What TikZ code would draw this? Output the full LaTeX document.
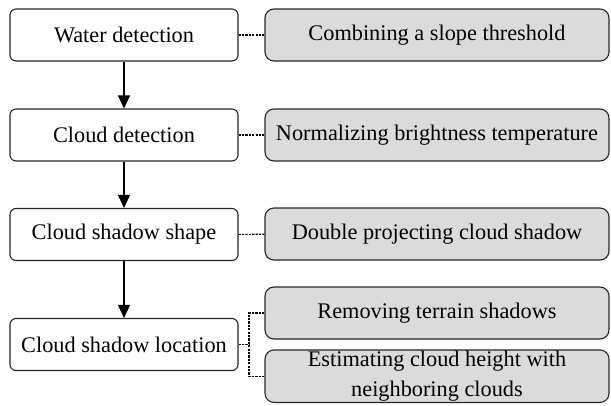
\documentclass[tikz,border=0pt]{standalone}
\usepackage{fontspec}
\setmainfont{Liberation Serif}
\usetikzlibrary{arrows.meta}
\begin{document}
\begin{tikzpicture}[x=1pt,y=-1pt,
  mainbox/.style={draw=black!85, line width=1.1pt, rounded corners=6pt, fill=white,
    minimum width=228pt, minimum height=52pt, inner sep=0pt, align=center,
    font=\fontsize{22.3pt}{26pt}\selectfont},
  subbox/.style={draw=black!85, line width=1.1pt, rounded corners=9pt, fill=gray!28,
    minimum width=344pt, minimum height=52pt, inner sep=0pt, align=center,
    font=\fontsize{22.3pt}{26pt}\selectfont},
  flow/.style={draw=black, line width=1.2pt, -{Triangle[length=13pt,width=12pt]}},
  link/.style={draw=black, line width=1.1pt, dash pattern=on 2.2pt off 1.2pt}
]
\useasboundingbox (0,0) rectangle (611,405);
\node[mainbox] (w) at (124,35) {Water detection};
\node[mainbox] (c) at (124,135) {Cloud detection};
\node[mainbox] (s) at (124,234.5) {Cloud shadow shape};
\node[mainbox] (l) at (124,344.5) {Cloud shadow location};
\node[subbox] (r1) at (437,35) {Combining a slope threshold};
\node[subbox] (r2) at (437,135) {Normalizing brightness temperature};
\node[subbox] (r3) at (437,234) {Double projecting cloud shadow};
\node[subbox] (r4) at (437,313) {Removing terrain shadows};
\node[subbox, minimum height=52.5pt] (r5) at (437,376.2) {Estimating cloud height with\\[4pt]neighboring clouds};
\draw[flow] (w) -- (c);
\draw[flow] (c) -- (s);
\draw[flow] (s) -- (l);
\draw[link] (w) -- (r1);
\draw[link] (c) -- (r2);
\draw[link] (s) -- (r3);
\coordinate (j) at (249,344.5);
\draw[link] (l.east) -- (j);
\draw[link] (r4.west) -| (j) |- (r5.west);
\end{tikzpicture}
\end{document}
